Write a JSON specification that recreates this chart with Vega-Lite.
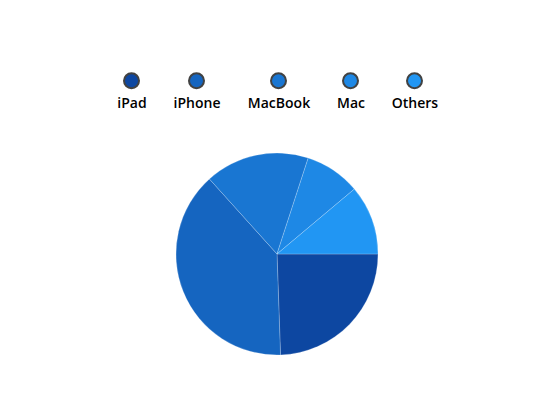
{
  "$schema": "https://vega.github.io/schema/vega-lite/v6.json",
  "description": "Product share pie",
  "autosize": {"type": "none"},
  "width": 202,
  "height": 202,
  "padding": {"left": 176, "top": 153, "right": 172, "bottom": 51},
  "config": {"view": {"stroke": null}},
  "data": {
    "values": [
      {"product": "iPad", "value": 22, "rank": 1},
      {"product": "iPhone", "value": 35, "rank": 2},
      {"product": "MacBook", "value": 15, "rank": 3},
      {"product": "Mac", "value": 8, "rank": 4},
      {"product": "Others", "value": 10, "rank": 5}
    ]
  },
  "mark": {"type": "arc", "stroke": "#ffffff", "strokeWidth": 0.6, "strokeOpacity": 0.35},
  "encoding": {
    "theta": {
      "field": "value",
      "type": "quantitative",
      "stack": true,
      "scale": {"range": [1.5707963, 7.8539816]}
    },
    "order": {"field": "rank", "type": "quantitative"},
    "color": {
      "field": "product",
      "type": "nominal",
      "sort": ["iPad", "iPhone", "MacBook", "Mac", "Others"],
      "scale": {
        "domain": ["iPad", "iPhone", "MacBook", "Mac", "Others"],
        "range": ["#0D47A1", "#1565C0", "#1976D2", "#1E88E5", "#2196F3"]
      },
      "legend": {
        "title": null,
        "orient": "none",
        "direction": "horizontal",
        "legendX": -53,
        "legendY": -81,
        "symbolType": "circle",
        "symbolSize": 225,
        "symbolStrokeColor": "#424242",
        "symbolStrokeWidth": 2,
        "symbolOpacity": 1,
        "labelFont": "Open Sans",
        "labelFontSize": 14,
        "labelFontWeight": 600,
        "labelColor": "#000000",
        "labelAlign": "center",
        "labelBaseline": "top",
        "labelLineHeight": 10,
        "labelExpr": "['', datum.label]",
        "labelOffset": -8,
        "columnPadding": 26
      }
    }
  }
}
